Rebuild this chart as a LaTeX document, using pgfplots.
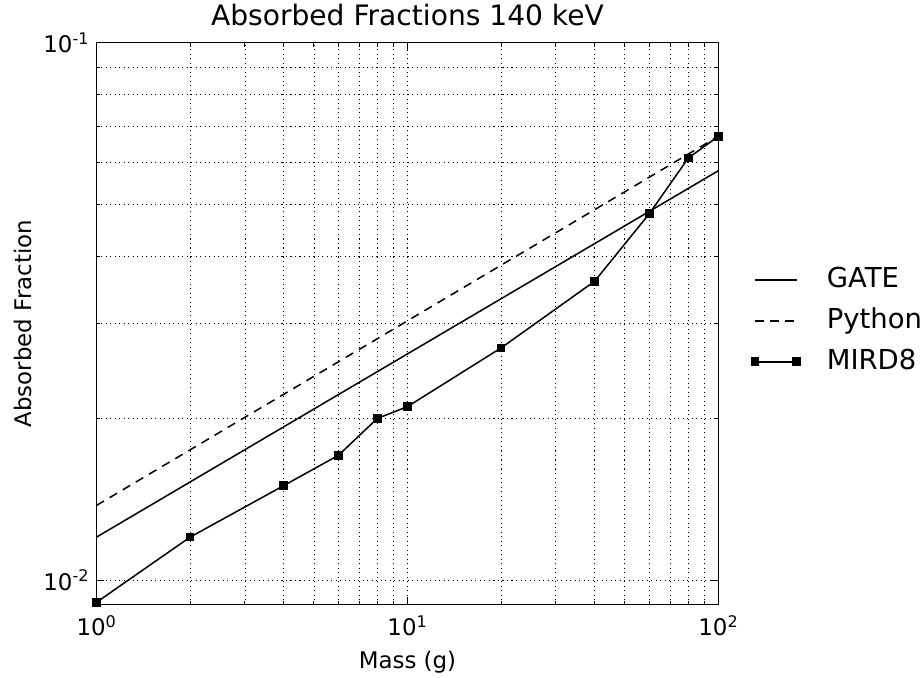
\documentclass[border=0pt]{standalone}
\usepackage{pgfplots}
\pgfplotsset{compat=1.18}
\usepackage{fontspec}
\setmainfont{DejaVu Sans}
\begin{document}
\begin{tikzpicture}
\begin{axis}[
  at={(0,0)}, anchor=south west,
  scale only axis,
  width=468.75pt, height=423.75pt,
  xmode=log, ymode=log,
  xmin=1, xmax=100, ymin=0.009, ymax=0.1,
  clip mode=individual,
  xtick={1,10,100},
  xticklabels={10\textsuperscript{0},10\textsuperscript{1},10\textsuperscript{2}},
  ytick={0.01,0.1},
  yticklabels={10\textsuperscript{-2},10\textsuperscript{-1}},
  tick align=inside,
  major tick length=6pt, minor tick length=3pt,
  tick style={black, line width=0.6pt},
  axis line style={line width=0.9pt},
  grid=both,
  major grid style={black, line width=0.5pt, dash pattern=on 0.8pt off 2.6pt},
  minor grid style={black, line width=0.5pt, dash pattern=on 0.8pt off 2.6pt},
  ticklabel style={font=\fontsize{17.25}{20}\selectfont},
  xticklabel style={anchor=base, yshift=-23.25pt},
  yticklabel style={anchor=east, xshift=-2pt},
  title={Absorbed Fractions 140 keV},
  title style={at={(axis description cs:0.5,1)}, anchor=base, yshift=6.75pt, font=\fontsize{21.2}{24}\selectfont},
  xlabel={Mass (g)},
  xlabel style={at={(axis description cs:0.5,0)}, anchor=base, yshift=-48pt, font=\fontsize{17.25}{20}\selectfont},
  ylabel={Absorbed Fraction},
  ylabel style={at={(axis description cs:0,0.5)}, anchor=base, yshift=48.75pt, font=\fontsize{17.25}{20}\selectfont},
  legend style={at={(axis description cs:1.053,0.505)}, anchor=west, draw=none, fill=none,
    inner sep=0pt, outer sep=0pt, row sep=11.75pt,
    font=\fontsize{20.7}{24}\selectfont,
    nodes={inner sep=0pt, text height=15pt, text depth=4pt},
    /tikz/every odd column/.append style={column sep=20pt}},
  legend cell align=left,
  legend image code/.code={\draw[mark repeat=1,mark phase=1,#1] plot coordinates {(0pt,0pt) (31.5pt,0pt)};},
]
\addplot[black, line width=1.15pt] coordinates {(1,0.01203) (100,0.0578)};
\addlegendentry{GATE}
\addplot[black, line width=1.15pt, dash pattern=on 6.5pt off 5pt] coordinates {(1,0.01378) (100,0.0670)};
\addlegendentry{Python}
\addplot[black, line width=1.15pt, mark=square*, mark size=2.7pt, mark options={solid}] coordinates {
  (1,0.0091) (2,0.01203) (4,0.0150) (6,0.01708) (8,0.0200) (10,0.02104)
  (20,0.02705) (40,0.0360) (60,0.0481) (80,0.0610) (100,0.0670)};
\addlegendentry{MIRD8}
\end{axis}
\useasboundingbox (-72.75pt,-53.25pt) rectangle (618.75pt,455.25pt);
\end{tikzpicture}
\end{document}
